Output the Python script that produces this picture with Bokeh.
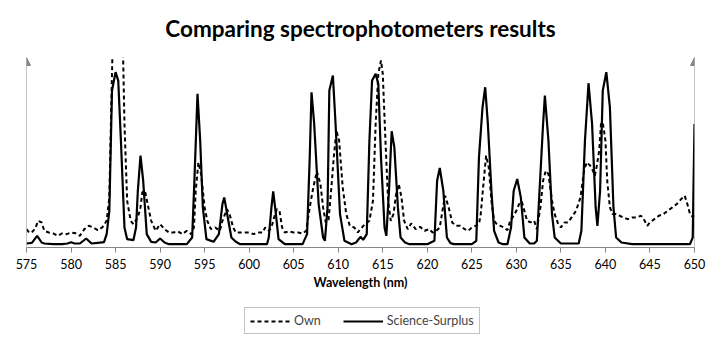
from bokeh.plotting import figure
from bokeh.layouts import column
from bokeh.models import Range1d, Arrow, NormalHead, Legend, LegendItem, FixedTicker
from bokeh.embed import file_html
from bokeh.resources import INLINE

title_text = "Comparing spectrophotometers results"
x_label = "Wavelength (nm)"
x_ticks = [575, 580, 585, 590, 595, 600, 605, 610, 615, 620, 625, 630, 635, 640, 645, 650]
series_names = ["Own", "Science-Surplus"]

ss_wl = [575, 575.6, 576.2, 576.7, 577, 578, 579, 579.6, 580, 580.4, 581, 581.7, 582.3, 583, 583.7,
         584, 584.3, 584.6, 585, 585.3, 585.6, 586, 586.3, 587, 587.3, 587.5, 587.8, 588.1, 588.5,
         589, 589.5, 590, 590.5, 591, 592, 593, 593.6, 593.85, 594.2, 594.5, 594.8, 595.2, 596,
         596.6, 597, 597.2, 597.6, 598, 598.5, 599, 600, 601, 602, 602.2, 602.5, 602.7, 603, 603.3,
         604, 605, 606, 606.5, 606.8, 607, 607.3, 607.8, 608.3, 608.5, 608.8, 609, 609.4, 609.7,
         610.2, 610.7, 611.5, 612, 612.5, 612.8, 613.2, 613.5, 613.8, 614.2, 614.5, 614.8, 615.2,
         615.4, 615.7, 616, 616.3, 616.7, 617, 617.5, 618, 619, 620, 620.8, 621.1, 621.4, 621.8,
         622.2, 622.6, 623, 624, 625, 625.5, 625.8, 626.2, 626.5, 626.8, 627.2, 627.5, 628, 628.5,
         629, 629.4, 629.7, 630.1, 630.5, 630.9, 631.5, 632, 632.3, 632.6, 633, 633.2, 633.6, 634,
         634.3, 635, 636, 637, 637.3, 637.7, 638.1, 638.5, 638.9, 639.1, 639.4, 639.7, 640.1, 640.5,
         640.9, 641.2, 641.8, 643, 645, 647, 649.5, 649.8, 650]
ss_val = [12, 14, 35, 15, 12, 10, 10, 12, 16, 12, 12, 27, 12, 14, 16,
          40, 110, 470, 525, 500, 320, 60, 25, 22, 60, 170, 275, 200, 40,
          17, 15, 27, 15, 10, 10, 10, 30, 200, 460, 320, 120, 25, 17,
          40, 130, 150, 90, 30, 17, 10, 10, 10, 10, 30, 120, 168, 100, 25,
          10, 10, 10, 40, 270, 465, 370, 130, 30, 20, 120, 470, 515, 370,
          100, 20, 10, 15, 32, 23, 40, 320, 500, 520, 490, 270, 60,
          35, 170, 348, 300, 120, 30, 15, 10, 10, 10, 20, 200, 238, 170,
          30, 13, 10, 10, 10, 20, 270, 420, 480, 370, 170, 50, 15, 10,
          10, 60, 170, 205, 150, 30, 12, 12, 20, 170, 370, 455, 320, 100,
          30, 12, 12, 12, 50, 320, 492, 370, 120, 65, 170, 470, 525, 420,
          120, 30, 15, 10, 10, 10, 10, 30, 370]

own_wl = [575, 575.3, 575.6, 576, 576.3, 576.7, 577, 577.5, 578, 578.5, 579, 579.5, 580, 580.5, 581,
          581.5, 582, 582.5, 583, 583.5, 584, 584.3, 584.6, 584.75, 585.75, 586, 586.3, 586.7, 587,
          587.5, 587.8, 588, 588.3, 588.6, 589, 589.5, 590, 590.5, 591, 591.5, 592, 592.5, 593, 593.5,
          593.8, 594, 594.3, 594.6, 595, 595.3, 595.7, 596.2, 596.7, 597, 597.5, 597.8, 598.2, 598.5,
          599, 599.5, 600, 600.5, 601, 601.5, 601.8, 602.2, 602.5, 602.8, 603.1, 603.4, 603.7, 604,
          604.5, 605, 605.5, 606, 606.4, 606.8, 607.2, 607.6, 608, 608.3, 608.6, 608.9, 609.2, 609.5,
          609.8, 610.1, 610.5, 610.9, 611.3, 611.8, 612.2, 612.5, 613, 613.5, 613.9, 614.2, 614.5,
          614.8, 615, 615.3, 615.6, 615.9, 616.2, 616.5, 616.8, 617.1, 617.4, 617.8, 618.2, 618.7,
          619.2, 619.7, 620.2, 620.6, 621, 621.4, 621.7, 622, 622.4, 622.8, 623.2, 623.7, 624.2,
          624.6, 625, 625.4, 625.8, 626, 626.3, 626.6, 626.9, 627.2, 627.5, 627.8, 628.2, 628.6, 629,
          629.3, 629.7, 630, 630.3, 630.6, 630.9, 631.2, 631.6, 632, 632.3, 632.7, 633, 633.3, 633.6,
          634, 634.3, 634.7, 635, 635.4, 635.8, 636.2, 636.7, 637.2, 637.6, 637.9, 638.3, 638.6,
          638.8, 639, 639.3, 639.5, 639.7, 640, 640.2, 640.5, 640.8, 641.2, 641.6, 642, 642.5, 643,
          643.5, 644, 644.3, 644.7, 645, 645.5, 646, 646.5, 647, 647.5, 648, 648.5, 648.9, 649.2,
          649.5, 649.8, 650]
own_val = [55, 45, 45, 58, 80, 75, 50, 45, 42, 35, 42, 40, 45, 43, 35,
           55, 65, 60, 52, 60, 80, 150, 520, 700, 700, 370, 140, 80, 70,
           90, 120, 165, 170, 130, 80, 50, 70, 55, 45, 45, 48, 40, 50, 40,
           60, 170, 255, 220, 120, 80, 55, 60, 50, 80, 115, 100, 60, 45,
           45, 45, 45, 40, 45, 45, 60, 50, 60, 90, 115, 110, 60, 45,
           48, 45, 45, 42, 50, 120, 180, 228, 190, 120, 75, 80, 170, 270,
           350, 320, 180, 100, 65, 60, 45, 55, 70, 80, 140, 370, 520,
           560, 520, 320, 140, 80, 100, 160, 190, 150, 80, 55, 72, 55,
           62, 50, 55, 45, 50, 60, 110, 155, 120, 75, 65, 65, 55,
           50, 60, 65, 70, 100, 190, 275, 240, 140, 80, 70, 65, 60, 52,
           80, 95, 110, 130, 138, 110, 80, 75, 80, 55, 120, 200, 230, 220,
           140, 100, 70, 60, 75, 75, 90, 110, 150, 230, 255, 245, 230,
           215, 240, 290, 370, 375, 320, 200, 120, 100, 100, 95, 90, 85, 90,
           90, 95, 85, 65, 75, 85, 95, 100, 110, 120, 130, 145, 155, 130,
           100, 92, 95]

FONT = "Lato"
GRAY = "#868686"
OWN_DASH = "4 3"

p = figure(width=720, height=300, output_backend="svg", toolbar_location=None,
           x_range=Range1d(575, 650), y_range=Range1d(0, 569),
           y_axis_location=None, min_border_left=26, min_border_right=26,
           min_border_top=57, min_border_bottom=53)
p.outline_line_color = None
p.grid.visible = False
p.background_fill_color = "white"
p.border_fill_color = "white"

p.title.text = title_text
p.title.align = "center"
p.title.vertical_align = "top"
p.title.text_font = FONT
p.title.text_font_size = "22.5px"
p.title.text_font_style = "bold"
p.title.text_color = "black"
p.title.standoff = 28

ax = p.xaxis[0]
ax.ticker = FixedTicker(ticks=x_ticks)
ax.axis_line_color = GRAY
ax.major_tick_line_color = GRAY
ax.major_tick_out = 5
ax.major_tick_in = 0
ax.minor_tick_line_color = None
ax.major_label_text_font = FONT
ax.major_label_text_font_size = "12.5px"
ax.major_label_text_color = "black"
ax.major_label_standoff = 6
ax.axis_label = x_label
ax.axis_label_text_font = FONT
ax.axis_label_text_font_size = "12.5px"
ax.axis_label_text_font_style = "bold"
ax.axis_label_text_color = "black"
ax.axis_label_standoff = 3

for xa in (x_ticks[0], x_ticks[-1]):
    p.add_layout(Arrow(end=NormalHead(size=8, fill_color=GRAY, line_color=GRAY),
                       x_start=xa, y_start=0, x_end=xa, y_end=569,
                       line_color=GRAY, line_width=1))

p.line(own_wl, own_val, line_color="black", line_width=2, line_dash=OWN_DASH)
p.line(ss_wl, ss_val, line_color="black", line_width=2.2)

# legend strip below the chart (sample lines kept outside its visible range)
lf = figure(width=720, height=42, output_backend="svg", toolbar_location=None,
            x_range=Range1d(0, 1), y_range=Range1d(0, 1),
            x_axis_location=None, y_axis_location=None,
            min_border_left=0, min_border_right=0, min_border_top=0, min_border_bottom=0)
lf.outline_line_color = None
lf.grid.visible = False
lf_own = lf.line([-2, -1], [-2, -1], line_color="black", line_width=2, line_dash=OWN_DASH)
lf_ss = lf.line([-2, -1], [-2, -1], line_color="black", line_width=2.2)
legend = Legend(items=[LegendItem(label=series_names[0], renderers=[lf_own]),
                       LegendItem(label=series_names[1], renderers=[lf_ss])],
                orientation="horizontal", location=(218, 8),
                label_text_font=FONT, label_text_font_size="12.5px",
                glyph_width=40, glyph_height=14, spacing=22, padding=5,
                border_line_color=GRAY, border_line_width=1, margin=0,
                label_standoff=4, label_height=14)
lf.add_layout(legend, "center")

layout = column(p, lf, spacing=0)
open("out.html", "w").write(file_html(layout, INLINE))
